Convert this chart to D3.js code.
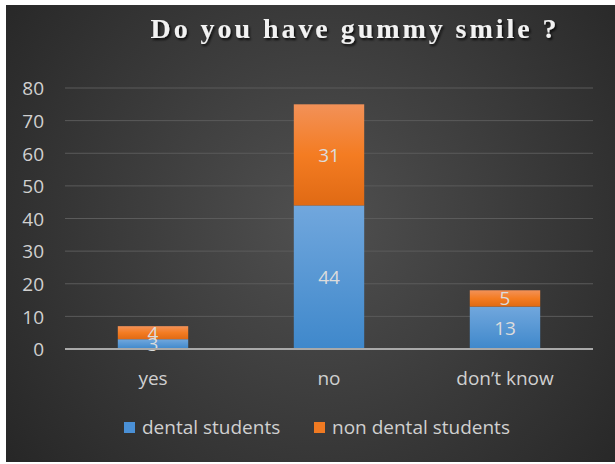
<!DOCTYPE html>
<html><head><meta charset="utf-8">
<script src="https://cdn.jsdelivr.net/npm/d3@7"></script>
<style>html,body{margin:0;padding:0;background:#fff;}svg{display:block;}</style>
</head><body>
<script>
const categories = ["yes", "no", "don\u2019t know"];
const seriesNames = ["dental students", "non dental students"];
const dental = [3, 44, 13];
const nonDental = [4, 31, 5];
const yTicks = [0, 10, 20, 30, 40, 50, 60, 70, 80];
const title = "Do you have gummy smile ?";

const W = 615, H = 464;
const svg = d3.select("body").append("svg").attr("width", W).attr("height", H);
const defs = svg.append("defs");

const bg = defs.append("radialGradient").attr("id", "bg")
  .attr("gradientUnits", "userSpaceOnUse").attr("cx", 320).attr("cy", 220).attr("r", 400);
bg.append("stop").attr("offset", "0").attr("stop-color", "#505050");
bg.append("stop").attr("offset", "1").attr("stop-color", "#262626");

const gBlue = defs.append("linearGradient").attr("id", "gBlue").attr("x1", 0).attr("y1", 0).attr("x2", 0).attr("y2", 1);
gBlue.append("stop").attr("offset", "0").attr("stop-color", "#71a7dd");
gBlue.append("stop").attr("offset", "1").attr("stop-color", "#3f88cb");
const gOr = defs.append("linearGradient").attr("id", "gOr").attr("x1", 0).attr("y1", 0).attr("x2", 0).attr("y2", 1);
gOr.append("stop").attr("offset", "0").attr("stop-color", "#f29158");
gOr.append("stop").attr("offset", "0.5").attr("stop-color", "#f47c22");
gOr.append("stop").attr("offset", "1").attr("stop-color", "#e06a14");

const sh = defs.append("filter").attr("id", "sh").attr("x", "-10%").attr("y", "-30%").attr("width", "120%").attr("height", "160%");
sh.append("feDropShadow").attr("dx", 1.5).attr("dy", 2).attr("stdDeviation", 1.2).attr("flood-color", "#000").attr("flood-opacity", 0.8);

svg.append("rect").attr("x", 6).attr("y", 5).attr("width", W - 6).attr("height", 457).attr("fill", "url(#bg)");

const x = d3.scaleBand().domain(categories).range([65, 593]).paddingInner(0.6).paddingOuter(0.3);
const y = d3.scaleLinear().domain([0, 80]).range([349, 88]);

const font = "'Open Sans', Lato, sans-serif";
const fs = "19px";

// gridlines
svg.append("g").selectAll("line").data(yTicks.filter(d => d > 0)).join("line")
  .attr("x1", 65).attr("x2", 593).attr("y1", d => y(d)).attr("y2", d => y(d))
  .attr("stroke", "#5b5b5b").attr("stroke-width", 1);

// y axis labels
const yAxis = d3.axisLeft(y).tickValues(yTicks).tickSize(0).tickPadding(0);
const ya = svg.append("g").attr("transform", "translate(44,0)").call(yAxis);
ya.select(".domain").remove();
ya.selectAll("text").attr("fill", "#d0d0d0").style("font-family", font).style("font-size", fs).attr("dy", "0.36em");

// stacked data
const rows = categories.map((c, i) => ({ cat: c, dental: dental[i], non: nonDental[i] }));
const stack = d3.stack().keys(["dental", "non"])(rows);
const fills = ["url(#gBlue)", "url(#gOr)"];

stack.forEach((layer, li) => {
  const g = svg.append("g");
  g.selectAll("rect").data(layer).join("rect")
    .attr("x", d => x(d.data.cat)).attr("width", x.bandwidth())
    .attr("y", d => y(d[1])).attr("height", d => y(d[0]) - y(d[1]))
    .attr("fill", fills[li]);
});
stack.forEach((layer, li) => {
  svg.append("g").selectAll("text").data(layer).join("text")
    .attr("x", d => x(d.data.cat) + x.bandwidth() / 2)
    .attr("y", d => (y(d[0]) + y(d[1])) / 2)
    .attr("dy", "0.36em").attr("text-anchor", "middle")
    .attr("fill", "#dcdcdc").style("font-family", font).style("font-size", fs)
    .text(d => d[1] - d[0]);
});

// baseline
svg.append("line").attr("x1", 65).attr("x2", 593).attr("y1", y(0)).attr("y2", y(0))
  .attr("stroke", "#a9a9a9").attr("stroke-width", 2);

// x axis labels
const xAxis = d3.axisBottom(x).tickSize(0).tickPadding(0);
const xa = svg.append("g").attr("transform", "translate(0,378)").call(xAxis);
xa.select(".domain").remove();
xa.selectAll("text").attr("fill", "#d0d0d0").style("font-family", font).style("font-size", fs).attr("dy", "0.36em");

// title
svg.append("text").attr("x", 355).attr("y", 38).attr("text-anchor", "middle")
  .attr("fill", "#f2f2f2").style("font-family", "'Liberation Serif', 'Times New Roman', serif")
  .style("font-weight", "bold").style("font-size", "28px").style("letter-spacing", "2.95px")
  .attr("filter", "url(#sh)").text(title);

// legend
const legColors = ["#4a90d6", "#f07a22"];
const legX = [124, 314];
const leg = svg.append("g");
seriesNames.forEach((n, i) => {
  leg.append("rect").attr("x", legX[i]).attr("y", 422).attr("width", 11).attr("height", 11).attr("fill", legColors[i]);
  leg.append("text").attr("x", legX[i] + 18).attr("y", 427.5).attr("dy", "0.36em")
    .attr("fill", "#d0d0d0").style("font-family", font).style("font-size", fs).text(n);
});
</script>
</body></html>
